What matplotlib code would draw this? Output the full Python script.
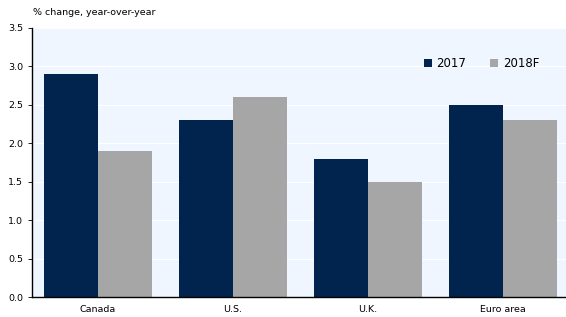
import numpy as np
import matplotlib.pyplot as plt

# data
categories = ['Canada', 'U.S.', 'U.K.', 'Euro area']
values_2017 = [2.9, 2.3, 1.8, 2.5]
values_2018f = [1.9, 2.6, 1.5, 2.3]
series_names = ['2017', '2018F']
y_ticks = [0.0, 0.5, 1.0, 1.5, 2.0, 2.5, 3.0, 3.5]

dark_blue = '#00244D'
grey = '#A6A6A6'

fig = plt.figure(figsize=(5.66, 3.17), dpi=100)
ax = fig.add_axes([0.0565, 0.063, 0.9435, 0.849])
ax.set_facecolor('#F0F6FF')

x = np.arange(len(categories))
w = 0.4
ax.bar(x - w / 2, values_2017, w, color=dark_blue, label=series_names[0], zorder=2)
ax.bar(x + w / 2, values_2018f, w, color=grey, label=series_names[1], zorder=2)

ax.set_xlim(-0.49, 3.47)
ax.set_ylim(0, 3.5)
ax.set_yticks(y_ticks)
ax.set_yticklabels(['%.1f' % t for t in y_ticks])
ax.set_xticks(x)
ax.set_xticklabels(categories)
ax.tick_params(axis='both', labelsize=6.8, length=3, width=0.6)
ax.tick_params(axis='x', length=0, pad=6)
ax.yaxis.grid(True, color='white', linewidth=0.8, zorder=0)
ax.set_axisbelow(True)

for side in ['top', 'right']:
    ax.spines[side].set_visible(False)
ax.spines['left'].set_linewidth(1.0)
ax.spines['bottom'].set_linewidth(1.0)

fig.text(0.058, 0.962, '% change, year-over-year', fontsize=6.8, va='center')

ax.legend(loc='upper right', bbox_to_anchor=(0.97, 0.93), ncol=2, frameon=False,
          fontsize=8.5, handlelength=0.7, handleheight=0.7, columnspacing=2.0,
          handletextpad=0.4)

fig.savefig('out.png', dpi=100)
